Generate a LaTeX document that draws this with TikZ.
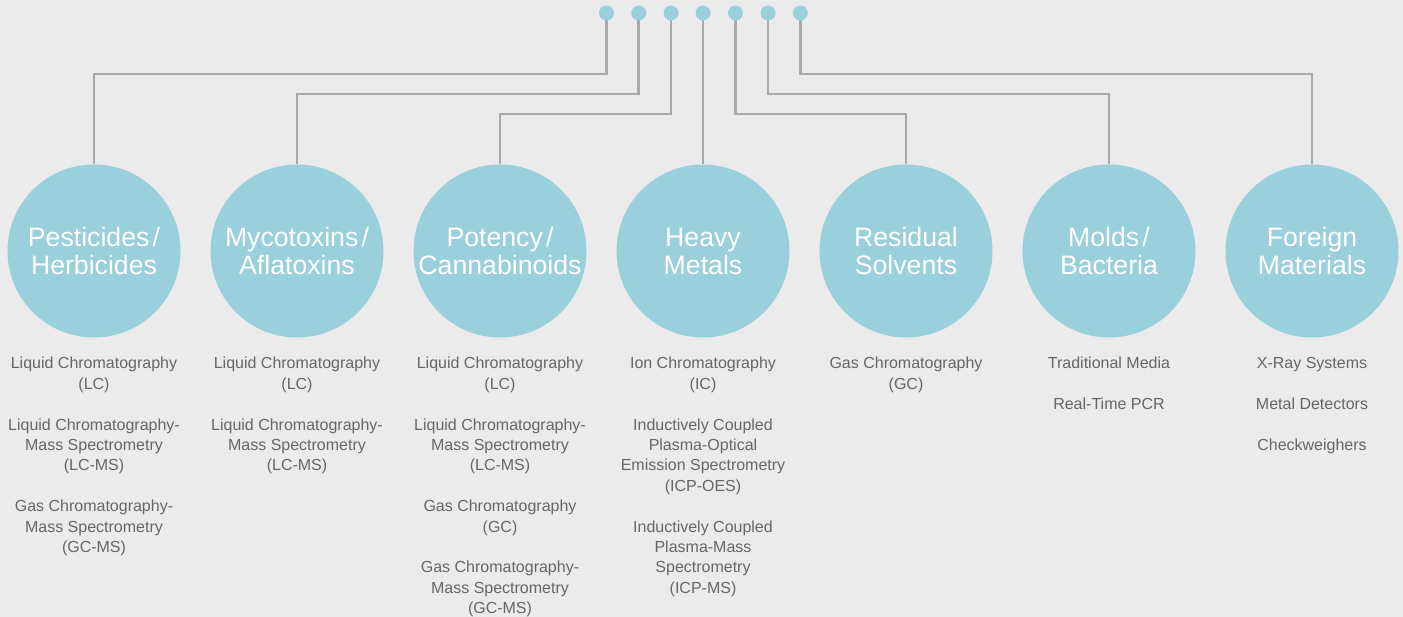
\documentclass[tikz,border=0pt]{standalone}
\usepackage{fontspec}
\setmainfont{Liberation Sans}
\definecolor{bg}{HTML}{EBEBEB}
\definecolor{circ}{HTML}{99D0DC}
\definecolor{lineg}{HTML}{A9A9AB}
\definecolor{txt}{HTML}{666666}
\begin{document}
\begin{tikzpicture}[x=0.75pt,y=-0.75pt,
  cat/.style={circle,fill=circ,minimum size=129.75pt,inner sep=0pt,text=white,
    font=\fontsize{20}{21}\selectfont,align=center},
  dot/.style={circle,fill=circ,minimum size=11.25pt,inner sep=0pt},
  conn/.style={draw=lineg,line width=2.2pt},
  list/.style={anchor=north,align=center,text=txt,inner sep=0pt,
    font=\fontsize{12}{15.3}\selectfont}]
\fill[bg] (0,0) rectangle (1403,617);
\useasboundingbox (0,0) rectangle (1403,617);

\coordinate (p1) at (606.5,13);
\coordinate (p2) at (638.8,13);
\coordinate (p3) at (671,13);
\coordinate (p4) at (703,13);
\coordinate (p5) at (735.5,13);
\coordinate (p6) at (768,13);
\coordinate (p7) at (800.3,13);

\node[cat] (c1) at (94,251) {Pesticides\hspace{0.12em}/\\Herbicides};
\node[cat] (c2) at (297,251) {Mycotoxins\hspace{0.12em}/\\Aflatoxins};
\node[cat] (c3) at (500,251) {Potency\hspace{0.12em}/\\Cannabinoids};
\node[cat] (c4) at (703,251) {Heavy\\Metals};
\node[cat] (c5) at (906,251) {Residual\\Solvents};
\node[cat] (c6) at (1109,251) {Molds\hspace{0.12em}/\\Bacteria};
\node[cat] (c7) at (1312,251) {Foreign\\Materials};

\draw[conn] (p1) -- (p1 |- 0,74) -| (c1);
\draw[conn] (p2) -- (p2 |- 0,94) -| (c2);
\draw[conn] (p3) -- (p3 |- 0,114) -| (c3);
\draw[conn] (p4) -- (c4);
\draw[conn] (p5) -- (p5 |- 0,114) -| (c5);
\draw[conn] (p6) -- (p6 |- 0,94) -| (c6);
\draw[conn] (p7) -- (p7 |- 0,74) -| (c7);

\node[dot] (d1) at (p1) {};
\node[dot] (d2) at (p2) {};
\node[dot] (d3) at (p3) {};
\node[dot] (d4) at (p4) {};
\node[dot] (d5) at (p5) {};
\node[dot] (d6) at (p6) {};
\node[dot] (d7) at (p7) {};

\node[list] (l1) at (94,357) {Liquid Chromatography\\(LC)\\[15.3pt]Liquid Chromatography-\\Mass Spectrometry\\(LC-MS)\\[15.3pt]Gas Chromatography-\\Mass Spectrometry\\(GC-MS)};
\node[list] (l2) at (297,357) {Liquid Chromatography\\(LC)\\[15.3pt]Liquid Chromatography-\\Mass Spectrometry\\(LC-MS)};
\node[list] (l3) at (500,357) {Liquid Chromatography\\(LC)\\[15.3pt]Liquid Chromatography-\\Mass Spectrometry\\(LC-MS)\\[15.3pt]Gas Chromatography\\(GC)\\[15.3pt]Gas Chromatography-\\Mass Spectrometry\\(GC-MS)};
\node[list] (l4) at (703,357) {Ion Chromatography\\(IC)\\[15.3pt]Inductively Coupled\\Plasma-Optical\\Emission Spectrometry\\(ICP-OES)\\[15.3pt]Inductively Coupled\\Plasma-Mass\\Spectrometry\\(ICP-MS)};
\node[list] (l5) at (906,357) {Gas Chromatography\\(GC)};
\node[list] (l6) at (1109,357) {Traditional Media\\[15.3pt]Real-Time PCR};
\node[list] (l7) at (1312,357) {X-Ray Systems\\[15.3pt]Metal Detectors\\[15.3pt]Checkweighers};
\end{tikzpicture}
\end{document}
